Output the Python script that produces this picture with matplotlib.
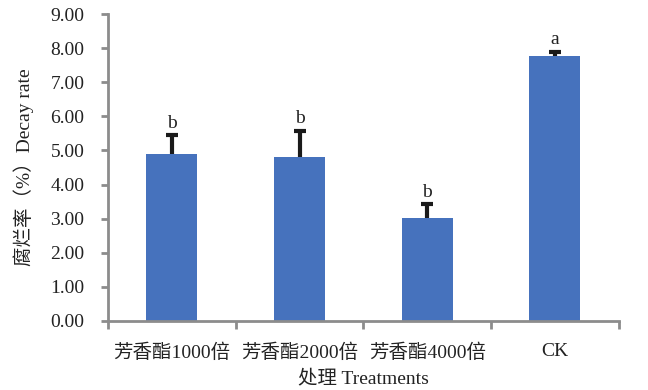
import matplotlib
matplotlib.use("Agg")
import matplotlib.pyplot as plt
import numpy as np

categories = ["芳香酯1000倍", "芳香酯2000倍", "芳香酯4000倍", "CK"]
values = [4.91, 4.82, 3.03, 7.77]
errors = [0.53, 0.76, 0.40, 0.13]
letters = ["b", "b", "b", "a"]
yticks = [0, 1, 2, 3, 4, 5, 6, 7, 8, 9]

fam = ["Liberation Serif", "Noto Sans CJK SC", "DejaVu Sans"]
plt.rcParams["font.family"] = fam

fig = plt.figure(figsize=(6.48, 3.9), dpi=100)
ax = fig.add_axes([0.1667, 0.177, 0.788, 0.787])

x = np.arange(len(categories))
ax.bar(x, values, width=0.4, color="#4672BD", zorder=2)
eb = ax.errorbar(x, values, yerr=[np.zeros(len(values)), errors], fmt="none",
                 ecolor="#1a1a1a", elinewidth=3, capsize=4.5, capthick=3, zorder=3)
# hide the lower caps (only upper error shown)
for cl in eb[1]:
    yd = np.asarray(cl.get_ydata(), dtype=float)
    if np.allclose(yd, values):
        cl.set_visible(False)
for xi, v, e, l in zip(x, values, errors, letters):
    ax.text(xi, v + e + 0.1, l, ha="center", va="bottom", fontsize=14, color="#222222")

ax.set_xlim(-0.5, 3.5)
ax.set_ylim(0, 9)
ax.set_yticks(yticks)
ax.set_yticklabels([f"{t:.2f}" for t in yticks], fontsize=14, color="#222222")
ax.set_xticks(x)
ax.set_xticklabels(categories, fontsize=14, color="#222222")
ax.tick_params(axis="x", length=0, pad=16)
ax.set_xticks(np.arange(-0.5, 4.0, 1.0), minor=True)
ax.tick_params(axis="x", which="minor", length=6, width=2, color="#8c8c8c")
ax.tick_params(axis="y", length=5, width=2, color="#8c8c8c", pad=12)

for s in ["top", "right"]:
    ax.spines[s].set_visible(False)
for s in ["left", "bottom"]:
    ax.spines[s].set_color("#8c8c8c")
    ax.spines[s].set_linewidth(2)

ax.set_ylabel("腐烂率（%）Decay rate", fontsize=14, color="#222222", labelpad=12)
ax.set_xlabel("处理 Treatments", fontsize=14, color="#222222", labelpad=6)

fig.savefig("out.png", dpi=100)
